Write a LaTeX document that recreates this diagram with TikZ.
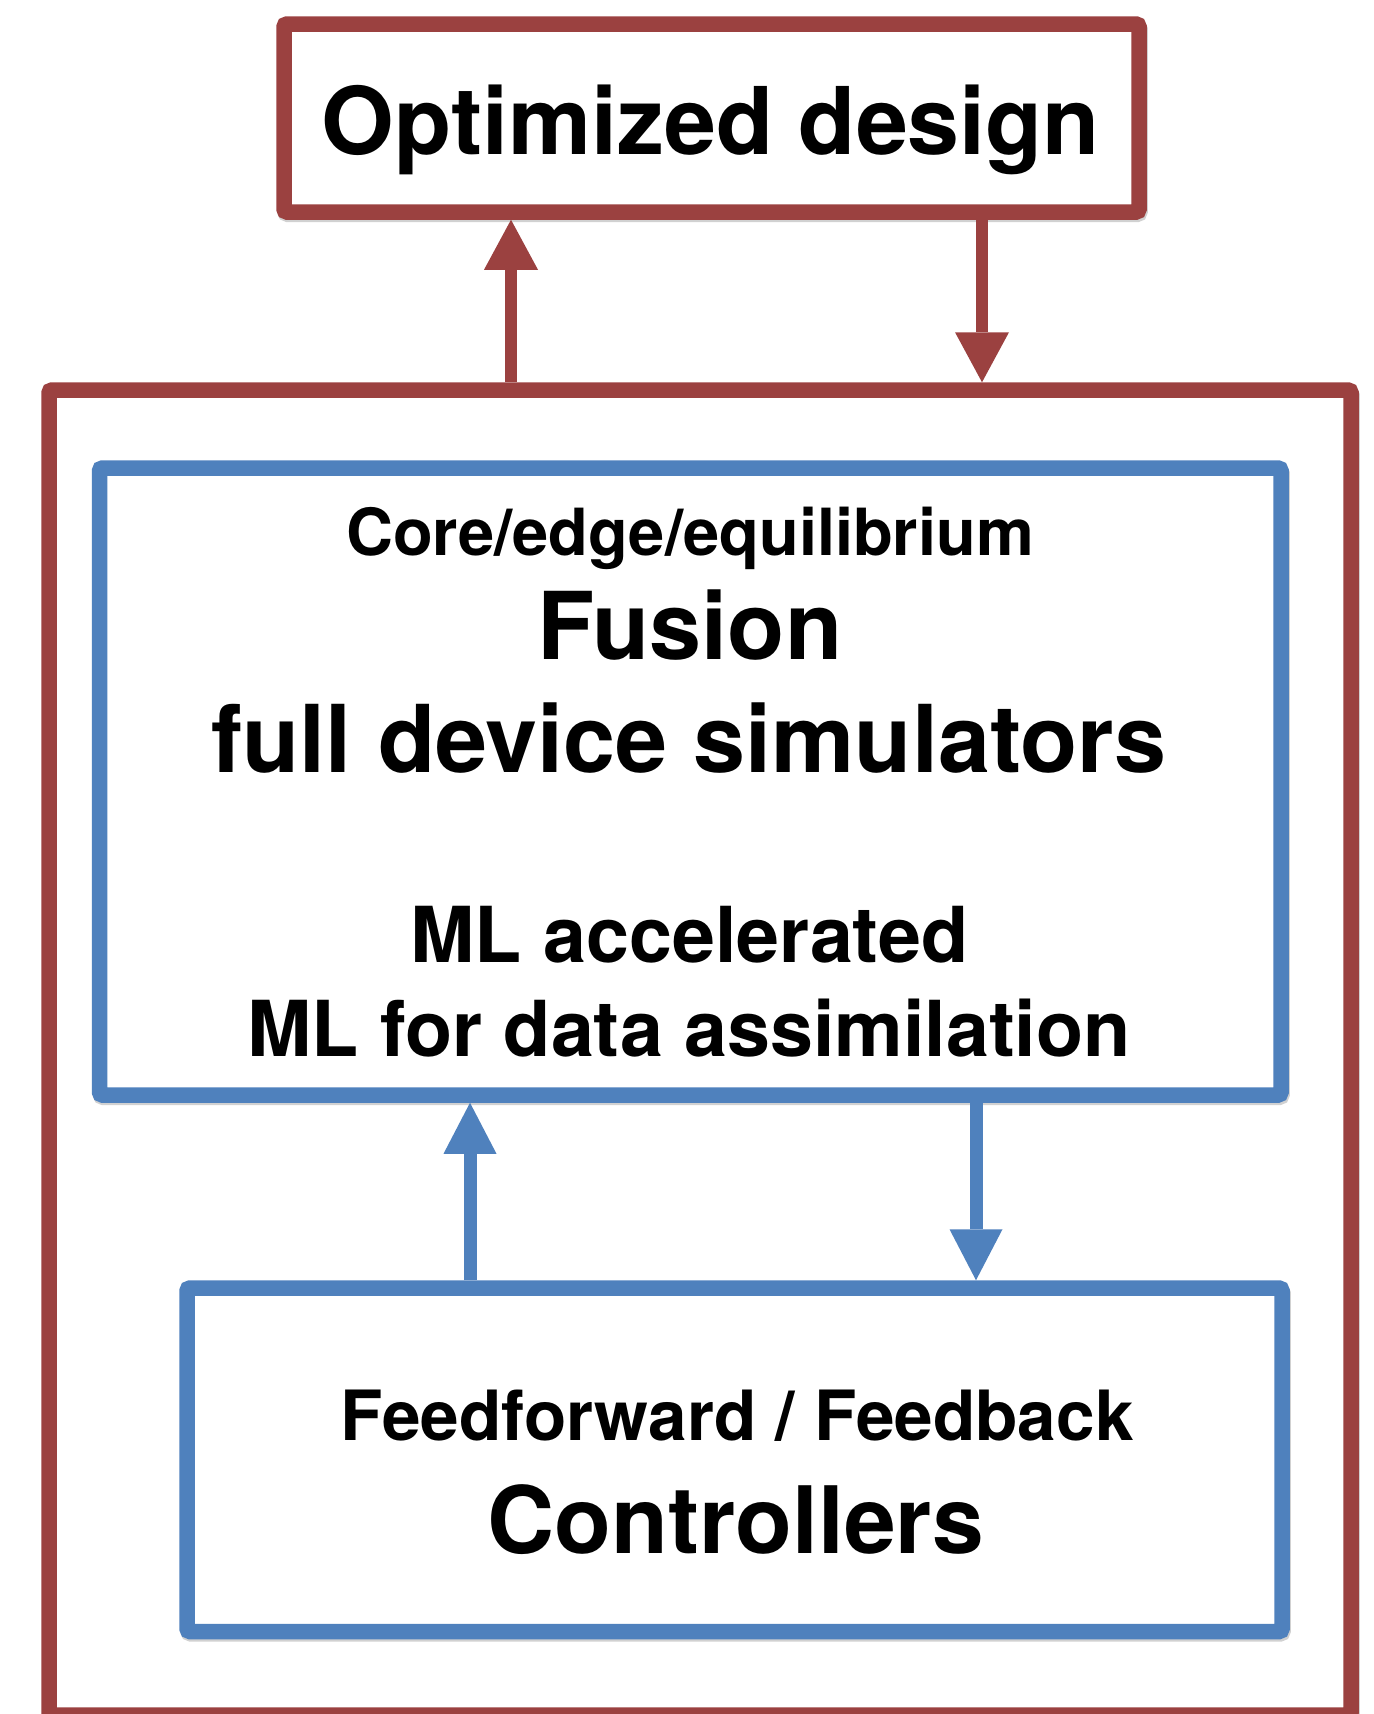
\documentclass[tikz,border=0pt]{standalone}
\usepackage{fontspec}
\setmainfont{TeX Gyre Heros}
\usetikzlibrary{arrows.meta,shadows}
\definecolor{dred}{RGB}{155,65,64}
\definecolor{dblue}{RGB}{79,129,189}
\tikzset{
  box/.style={draw, line width=7.75pt, fill=white, rounded corners=1.5pt, inner sep=0pt,
    drop shadow={shadow xshift=0.5pt, shadow yshift=-1.2pt, opacity=0.18, fill=black, draw=black, line width=7.75pt}},
  redbox/.style={box, draw=dred},
  bluebox/.style={box, draw=dblue},
  lbl/.style={anchor=base, inner sep=0pt},
  redarr/.style={draw=dred, line width=6pt, -{Triangle[length=25pt,width=27pt,line width=0pt]}},
  bluearr/.style={draw=dblue, line width=6.5pt, -{Triangle[length=25.5pt,width=26.5pt,line width=0pt]}}
}
\newcommand{\fsz}[1]{\bfseries\fontsize{#1}{#1}\selectfont}
\begin{document}
\begin{tikzpicture}[x=0.5pt,y=-0.5pt]
\useasboundingbox (0,0) rectangle (1373,1714);
% boxes
\node[redbox, minimum width=651pt, minimum height=662.5pt] (outer) at (700,1052.5) {};
\node[redbox, minimum width=427.5pt, minimum height=94pt] (top) at (711.5,118) {};
\node[bluebox, minimum width=590.75pt, minimum height=313.5pt] (sim) at (690.25,781.5) {};
\node[bluebox, minimum width=547.5pt, minimum height=171.75pt] (ctrl) at (734.5,1459.75) {};
% texts
\node[lbl, font=\fsz{46.7pt}] (t1) at (711,154) {Optimized design};
\node[lbl, font=\fsz{32.5pt}] (t2) at (690,555) {Core/edge/equilibrium};
\node[lbl, font=\fsz{46.8pt}] (t3) at (690,659) {Fusion};
\node[lbl, font=\fsz{46.8pt}] (t4) at (689,772) {full device simulators};
\node[lbl, font=\fsz{38.6pt}] (t5) at (689.5,962) {ML accelerated};
\node[lbl, font=\fsz{38.6pt}] (t6) at (689,1056) {ML for data assimilation};
\node[lbl, font=\fsz{34.65pt}] (t7) at (737,1440) {Feedforward / Feedback};
\node[lbl, font=\fsz{46.5pt}] (t8) at (736,1553) {Controllers};
% arrow positions
\coordinate (upR) at (511,0);
\coordinate (dnR) at (982,0);
\coordinate (upB) at (470,0);
\coordinate (dnB) at (976,0);
\draw[redarr] (outer.north -| upR) -- (top.south -| upR);
\draw[redarr] (top.south -| dnR) -- (outer.north -| dnR);
\draw[bluearr] (ctrl.north -| upB) -- (sim.south -| upB);
\draw[bluearr] (sim.south -| dnB) -- (ctrl.north -| dnB);
\end{tikzpicture}
\end{document}
